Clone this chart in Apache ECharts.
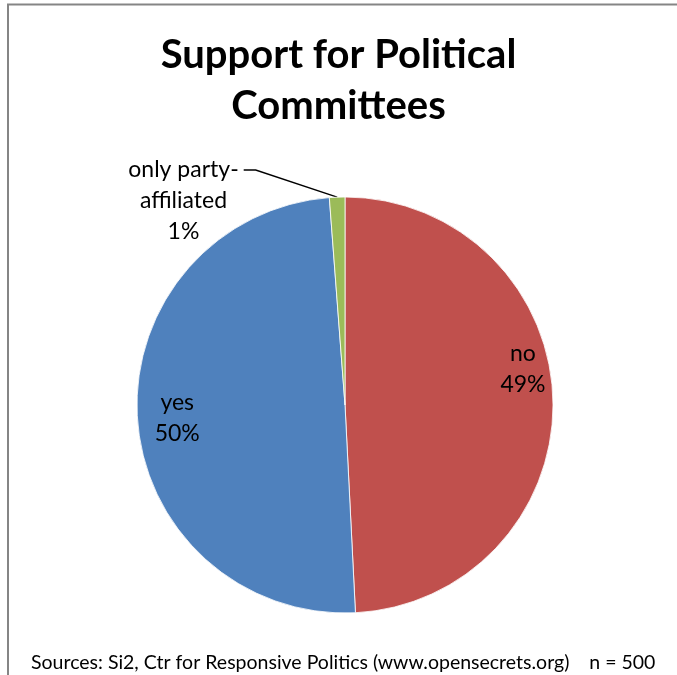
<!DOCTYPE html>
<html>
<head>
<meta charset="utf-8">
<script src="https://cdn.jsdelivr.net/npm/echarts@6/dist/echarts.min.js"></script>
<style>
  html, body { margin: 0; padding: 0; background: #fff; overflow: hidden; }
  #chart { width: 677px; height: 675px; }
</style>
</head>
<body>
<div id="chart"></div>
<script>
// Survey responses (n = 500)
const categories = ['no', 'yes', 'only party-affiliated'];
const counts = [246, 248, 6];
const sliceColors = ['#C0504D', '#4F81BD', '#9BBB59'];

const titleLines = ['Support for Political', 'Committees'];
const sourceNote = 'Sources: Si2, Ctr for Responsive Politics (www.opensecrets.org)    n = 500';

const FONT = 'Lato, "Open Sans", sans-serif';
const LABEL_LINE_H = 31;

const chart = echarts.init(document.getElementById('chart'), null, { renderer: 'canvas' });

// Label placement tweaks per slice (index order as in categories).
const labelPlacement = [
  { dx: 71, dy: -33 },
  { dx: -61, dy: 6 },
  { x: 186, y: 170, align: 'center', verticalAlign: 'middle' }
];

// Wrapped label text; the outside label gets two leading blank lines so the
// middle of its box (where the leader line attaches) sits on its first line.
function labelText(p) {
  const body = p.name.replace('-', '-\n') + '\n' + p.percent + '%';
  return p.dataIndex === 2 ? '\n\n' + body : body;
}

chart.setOption({
  animation: false,
  backgroundColor: '#fff',
  graphic: [{
    type: 'polyline',
    shape: { points: [[8, 720], [8, 4.5], [720, 4.5]] },
    style: { fill: 'none', stroke: '#858585', lineWidth: 2 },
    z: -1
  }],
  title: [{
    text: titleLines.join('\n'),
    left: 'center',
    top: 25,
    textStyle: {
      fontFamily: FONT,
      fontWeight: 'bold',
      fontSize: 40,
      lineHeight: 51,
      color: '#000'
    }
  }, {
    text: sourceNote,
    left: 26,
    top: 648,
    textStyle: {
      fontFamily: FONT,
      fontWeight: 'normal',
      fontSize: 19.5,
      color: '#000'
    }
  }],
  series: [{
    type: 'pie',
    center: [345, 405],
    radius: 208,
    startAngle: 90,
    clockwise: true,
    percentPrecision: 0,
    avoidLabelOverlap: false,
    itemStyle: { borderColor: '#fff', borderWidth: 0.8 },
    label: {
      show: true,
      position: 'inside',
      formatter: labelText,
      fontFamily: FONT,
      fontSize: 23,
      lineHeight: LABEL_LINE_H,
      color: '#000',
      align: 'center'
    },
    labelLine: { show: false },
    labelLayout: p => labelPlacement[p.dataIndex],
    data: categories.map((name, i) => {
      const item = { name, value: counts[i], itemStyle: { color: sliceColors[i] } };
      if (i === 2) {
        item.label = { position: 'outside', padding: [0, 5, 0, 0] };
        item.labelLine = { show: true, length: 12, length2: 12, lineStyle: { color: '#000', width: 1.5 } };
      }
      return item;
    })
  }]
});
</script>
</body>
</html>
